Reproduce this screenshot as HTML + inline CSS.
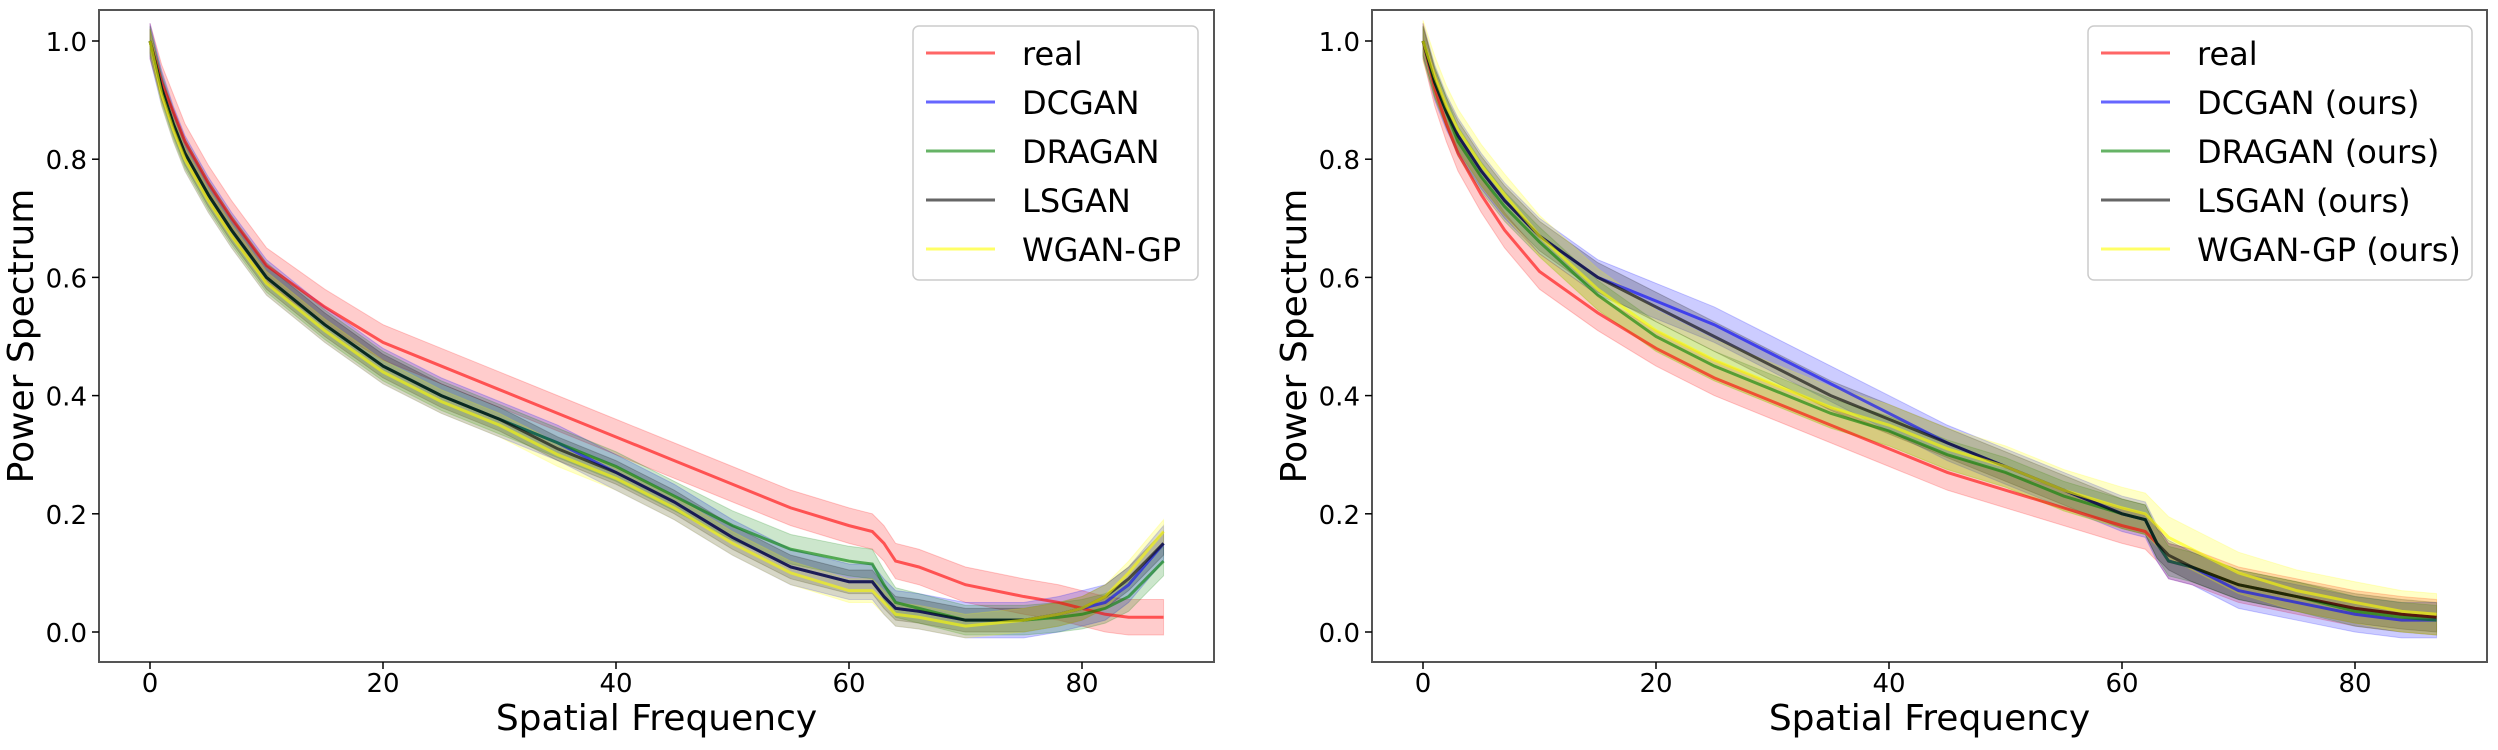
<!DOCTYPE html>
<html><head><meta charset="utf-8"><style>
body{margin:0;background:#fff}
svg text{font-family:"DejaVu Sans","Liberation Sans",sans-serif}
</style></head><body>
<svg id="fig" width="2498" height="745" viewBox="0 0 2498 745" xmlns="http://www.w3.org/2000/svg"></svg>
<script>
const freqL = [0,1,2,3,5,7,10,15,20,25,30,35,40,45,50,55,60,62,63,64,66,70,75,78,80,82,84,87];
const realL  = [1,0.93,0.88,0.83,0.76,0.70,0.62,0.55,0.49,0.45,0.41,0.37,0.33,0.29,0.25,0.21,0.18,0.17,0.15,0.12,0.11,0.08,0.06,0.05,0.04,0.03,0.025,0.025];
const dcganL = [1,0.92,0.86,0.81,0.74,0.68,0.60,0.52,0.45,0.40,0.36,0.32,0.27,0.22,0.16,0.11,0.085,0.085,0.06,0.04,0.035,0.02,0.02,0.03,0.04,0.05,0.08,0.15];
const draganL= [1,0.92,0.86,0.81,0.74,0.68,0.60,0.52,0.45,0.40,0.36,0.32,0.28,0.23,0.18,0.14,0.12,0.115,0.08,0.05,0.04,0.02,0.02,0.025,0.03,0.04,0.06,0.12];
const lsganL = [1,0.92,0.86,0.81,0.74,0.68,0.60,0.52,0.45,0.40,0.36,0.31,0.27,0.22,0.16,0.11,0.085,0.085,0.06,0.04,0.035,0.02,0.02,0.03,0.04,0.06,0.09,0.15];
const wganL  = [1,0.91,0.85,0.80,0.73,0.67,0.59,0.51,0.44,0.39,0.35,0.30,0.26,0.21,0.15,0.10,0.07,0.07,0.05,0.03,0.025,0.01,0.02,0.03,0.04,0.06,0.10,0.17];
const bandL  = [0.03,0.03,0.025,0.02,0.02];

const freqR = [0,1,2,3,5,7,10,15,20,25,30,35,40,45,50,55,60,62,63,64,66,70,75,80,84,87];
const realR  = [1,0.92,0.86,0.81,0.74,0.68,0.61,0.54,0.48,0.43,0.39,0.35,0.31,0.27,0.24,0.21,0.18,0.17,0.15,0.12,0.11,0.08,0.06,0.04,0.03,0.025];
const dcganR = [1,0.93,0.88,0.84,0.78,0.73,0.67,0.60,0.56,0.52,0.47,0.42,0.37,0.32,0.28,0.24,0.20,0.19,0.15,0.12,0.11,0.07,0.05,0.03,0.02,0.02];
const draganR= [1,0.93,0.88,0.83,0.77,0.72,0.66,0.57,0.50,0.45,0.41,0.37,0.34,0.30,0.27,0.23,0.20,0.19,0.15,0.12,0.11,0.08,0.06,0.035,0.025,0.02];
const lsganR = [1,0.93,0.88,0.84,0.78,0.73,0.67,0.60,0.55,0.50,0.45,0.40,0.36,0.32,0.28,0.24,0.20,0.19,0.15,0.13,0.11,0.08,0.06,0.04,0.03,0.025];
const wganR  = [1,0.94,0.89,0.85,0.79,0.74,0.67,0.58,0.51,0.46,0.42,0.38,0.35,0.31,0.28,0.24,0.21,0.20,0.18,0.16,0.14,0.10,0.07,0.05,0.035,0.03];
const bandR  = [0.03,0.03,0.025,0.025,0.035];

const xTicks = [0,20,40,60,80];
const yTicks = [0.0,0.2,0.4,0.6,0.8,1.0];
const labelsL = ["real","DCGAN","DRAGAN","LSGAN","WGAN-GP"];
const labelsR = ["real","DCGAN (ours)","DRAGAN (ours)","LSGAN (ours)","WGAN-GP (ours)"];
const colors = ["#ff0000","#0000ff","#008000","#000000","#ffff00"];
const NS="http://www.w3.org/2000/svg";
const svg=document.getElementById('fig');
function mk(tag,attrs,parent){const e=document.createElementNS(NS,tag);for(const k in attrs)e.setAttribute(k,attrs[k]);(parent||svg).appendChild(e);return e;}

function panel(id,left,freq,series,bands,labels,legX,legW){
  const right=left+1115, top=10, bottom=662;
  const sx=v=>left+51+v*11.65;
  const sy=v=>632-v*591;
  const g=mk('g',{});
  
  
  series.forEach((vals,si)=>{
    const up=freq.map((f,i)=>sx(f)+','+sy(vals[i]+bands[si])).join(' ');
    const dn=freq.map((f,i)=>sx(f)+','+sy(vals[i]-bands[si])).reverse().join(' ');
    const b=mk('polygon',{points:up+' '+dn,fill:colors[si],'fill-opacity':si==4?0.22:0.2,stroke:colors[si],'stroke-opacity':0.2},g);
    
    
  });
  series.forEach((vals,si)=>{
    const l=mk('polyline',{points:freq.map((f,i)=>sx(f)+','+sy(vals[i])).join(' '),fill:'none',stroke:colors[si],'stroke-opacity':0.6,'stroke-width':3},g);
    
    
  });
  const fr=mk('rect',{x:left,y:top,width:right-left,height:bottom-top,fill:'none',stroke:'#555','stroke-width':2},g);
  
  
  xTicks.forEach(t=>{
    mk('line',{x1:sx(t),x2:sx(t),y1:bottom,y2:bottom+7,stroke:'#000','stroke-width':1.5},g);
    const tx=mk('text',{x:sx(t),y:692,'font-size':26,'text-anchor':'middle'},g);
    tx.textContent=t;
    
    
  });
  yTicks.forEach(t=>{
    mk('line',{x1:left-7,x2:left,y1:sy(t),y2:sy(t),stroke:'#000','stroke-width':1.5},g);
    const tx=mk('text',{x:left-12,y:sy(t)+10,'font-size':26,'text-anchor':'end'},g);
    tx.textContent=t.toFixed(1);
    
    
  });
  const xl=mk('text',{x:(left+right)/2,y:730,'font-size':36,'text-anchor':'middle'},g);
  xl.textContent='Spatial Frequency';
  
  
  const yl=mk('text',{x:0,y:0,'font-size':36,'text-anchor':'middle',transform:`translate(${left-66},336) rotate(-90)`},g);
  yl.textContent='Power Spectrum';
  
  
  const lg=mk('g',{},g);
  
  
  mk('rect',{x:legX,y:26,width:legW,height:254,rx:6,fill:'#fff','fill-opacity':0.8,stroke:'#ccc','stroke-width':1.5},lg);
  labels.forEach((lab,i)=>{
    const y=53+i*49;
    mk('line',{x1:legX+13,x2:legX+82,y1:y,y2:y,stroke:colors[i],'stroke-opacity':0.6,'stroke-width':3},lg);
    const t=mk('text',{x:legX+109,y:y+12,'font-size':32},lg);
    t.textContent=lab;
    
    
  });
}
panel('left-chart',99,freqL,[realL,dcganL,draganL,lsganL,wganL],bandL,labelsL,913,285);
panel('right-chart',1372,freqR,[realR,dcganR,draganR,lsganR,wganR],bandR,labelsR,2088,384);
</script>
</body></html>
